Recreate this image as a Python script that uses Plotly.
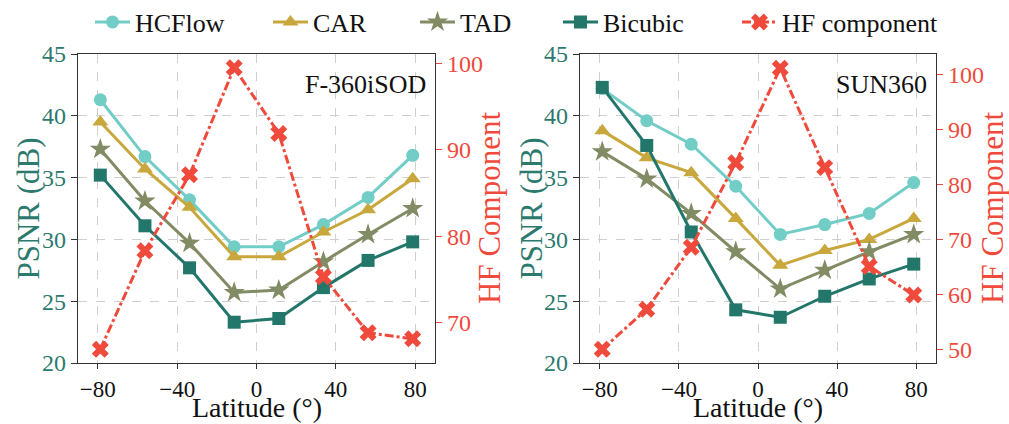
import plotly.graph_objects as go

lat = [-78.75, -56.25, -33.75, -11.25, 11.25, 33.75, 56.25, 78.75]

# F-360iSOD
f_hcflow = [41.3, 36.7, 33.2, 29.4, 29.4, 31.2, 33.4, 36.8]
f_car = [39.5, 35.7, 32.6, 28.6, 28.6, 30.6, 32.4, 34.9]
f_tad = [37.3, 33.1, 29.7, 25.7, 25.9, 28.2, 30.4, 32.5]
f_bicubic = [35.2, 31.1, 27.7, 23.3, 23.6, 26.1, 28.3, 29.8]
f_hf = [66.9, 78.3, 87.1, 99.5, 91.9, 75.3, 68.8, 68.1]

# SUN360
s_hcflow = [42.2, 39.6, 37.7, 34.3, 30.4, 31.2, 32.1, 34.6]
s_car = [38.8, 36.6, 35.4, 31.7, 27.9, 29.1, 30.0, 31.7]
s_tad = [37.1, 34.9, 32.1, 29.0, 26.0, 27.5, 29.0, 30.4]
s_bicubic = [42.3, 37.6, 30.6, 24.3, 23.7, 25.4, 26.8, 28.0]
s_hf = [50.0, 57.3, 68.6, 84.0, 101.2, 83.1, 65.1, 59.9]

panels = ["F-360iSOD", "SUN360"]
series_names = ["HCFlow", "CAR", "TAD", "Bicubic", "HF component"]
xticks = [-80, -40, 0, 40, 80]
psnr_ticks = [20, 25, 30, 35, 40, 45]
hf_ticks = [[70, 80, 90, 100], [50, 60, 70, 80, 90, 100]]

C_HC = "#72cdc6"
C_CAR = "#c8a73c"
C_TAD = "#818b64"
C_BIC = "#22766a"
C_HF = "#ef4a3c"
C_LEFT = "#2c7a6e"
FONT = "Liberation Serif"
W, H = 1009, 424

styles = [
    (C_HC, "circle", 13),
    (C_CAR, "triangle-up", 14),
    (C_TAD, "star", 16),
    (C_BIC, "square", 13),
]

data = [
    (f_hcflow, f_car, f_tad, f_bicubic, f_hf),
    (s_hcflow, s_car, s_tad, s_bicubic, s_hf),
]

legend_ids = ["legend", "legend2", "legend3", "legend4", "legend5"]

fig = go.Figure()
for p, vals in enumerate(data):
    xa = "x" if p == 0 else "x2"
    ya = "y" if p == 0 else "y3"
    yb = "y2" if p == 0 else "y4"
    for i, ((col, sym, sz), v) in enumerate(zip(styles, vals[:4])):
        fig.add_trace(go.Scatter(
            x=lat, y=v, mode="lines+markers", name=series_names[i],
            line=dict(color=col, width=3),
            marker=dict(symbol=sym, size=sz, color=col),
            xaxis=xa, yaxis=ya, showlegend=(p == 0), legend=legend_ids[i],
        ))
    fig.add_trace(go.Scatter(
        x=lat, y=vals[4], mode="lines+markers", name=series_names[4],
        line=dict(color=C_HF, width=3, dash="dashdot"),
        marker=dict(symbol="x", size=15, color=C_HF),
        xaxis=xa, yaxis=yb, showlegend=(p == 0), legend=legend_ids[4],
    ))

# pixel geometry -> paper fractions
def px(x):
    return x / W

def py(y):
    return 1 - y / H

ydom = [py(363), py(54)]
xdoms = [[px(78), px(435)], [px(580), px(936)]]
hf_ranges = [[65.3, 101.1], [47.5, 103.8]]

layout = dict(
    width=W, height=H,
    margin=dict(l=0, r=0, t=0, b=0, autoexpand=False),
    plot_bgcolor="white", paper_bgcolor="white",
    font=dict(family=FONT),
)

# legends: text start positions (px)
text_starts = [135, 313, 460, 603, 782]
for lid, ts in zip(legend_ids, text_starts):
    layout[lid] = dict(
        x=px(ts - 45), xanchor="left", y=py(22), yanchor="middle",
        orientation="h", itemwidth=35, bgcolor="rgba(0,0,0,0)", borderwidth=0,
        font=dict(family=FONT, size=26, color="#111"),
    )

for p in range(2):
    xk = "xaxis" if p == 0 else "xaxis2"
    yk = "yaxis" if p == 0 else "yaxis3"
    yk2 = "yaxis2" if p == 0 else "yaxis4"
    xa = "x" if p == 0 else "x2"
    ya = "y" if p == 0 else "y3"
    layout[xk] = dict(
        domain=xdoms[p], anchor=ya,
        range=[-90, 90], tickvals=xticks, ticks="outside", ticklen=5, tickcolor="#333",
        showline=True, linecolor="#333", linewidth=1.2, mirror=True,
        showgrid=True, gridcolor="#cfcfcf", griddash="dash", gridwidth=1,
        zeroline=False,
        tickfont=dict(family=FONT, size=23, color="#111"),
    )
    layout[yk] = dict(
        domain=ydom, anchor=xa,
        range=[20, 45], tickvals=psnr_ticks, ticks="outside", ticklen=6, tickcolor="#333",
        showline=True, linecolor="#333", linewidth=1.2,
        showgrid=True, gridcolor="#cfcfcf", griddash="dash", gridwidth=1,
        zeroline=False,
        tickfont=dict(family=FONT, size=24, color=C_LEFT),
    )
    layout[yk2] = dict(
        range=hf_ranges[p], tickvals=hf_ticks[p], ticks="outside", ticklen=6,
        overlaying=ya, side="right", anchor=xa,
        showline=True, linecolor="#333", linewidth=1.2,
        showgrid=False, zeroline=False,
        tickcolor=C_HF,
        tickfont=dict(family=FONT, size=24, color=C_HF),
    )

fig.update_layout(**layout)

# axis titles and panel labels
psnr_x = [28, 531]
hf_x = [489.5, 992.5]
xmid = [256.5, 758]
for p, name in enumerate(panels):
    fig.add_annotation(
        text="PSNR (dB)", xref="paper", yref="paper", x=px(psnr_x[p]), y=py(208.5),
        xanchor="center", yanchor="middle", textangle=-90, showarrow=False,
        font=dict(family=FONT, size=31, color=C_LEFT),
    )
    fig.add_annotation(
        text="HF Component", xref="paper", yref="paper", x=px(hf_x[p]), y=py(208.5),
        xanchor="center", yanchor="middle", textangle=-90, showarrow=False,
        font=dict(family=FONT, size=31, color=C_HF),
    )
    fig.add_annotation(
        text="Latitude (°)", xref="paper", yref="paper", x=px(xmid[p]), y=0,
        xanchor="center", yanchor="bottom", showarrow=False, borderpad=0,
        font=dict(family=FONT, size=28, color="#111"),
    )
    fig.add_annotation(
        text=name, xref="x domain" if p == 0 else "x2 domain",
        yref="y domain" if p == 0 else "y3 domain",
        x=0.98, y=0.955, xanchor="right", yanchor="top", showarrow=False,
        font=dict(family=FONT, size=26, color="#111"),
    )

fig.write_html(
    "out.html",
    config={"displayModeBar": False},
    post_script="document.body.style.margin='0';document.body.style.overflow='hidden';",
)
